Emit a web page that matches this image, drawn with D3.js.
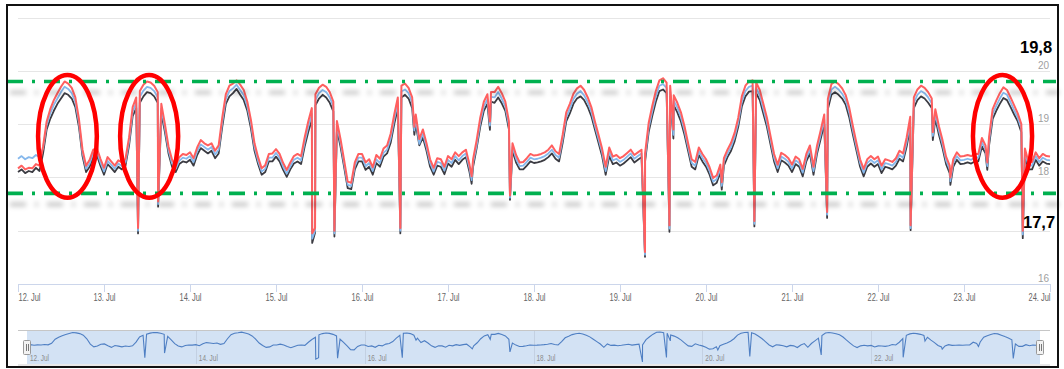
<!DOCTYPE html>
<html>
<head>
<meta charset="utf-8">
<script src="https://cdn.jsdelivr.net/npm/d3@7"></script>
<style>
  html, body { margin: 0; padding: 0; background: #fff; }
  svg { display: block; }
</style>
</head>
<body>
<svg id="chart" width="1064" height="369"></svg>
<script>
// ---- Data: hourly temperature readings (°C), 12 Jul 00:00 to 24 Jul 00:00 ----
const startDate = Date.UTC(2019, 6, 12);
const endDate = Date.UTC(2019, 6, 24);

// Sensor 1 (dark)
const darkSeries = [
  18.10, 18.15, 18.08, 18.12, 18.10, 18.18, 18.12, 18.45, 18.90, 19.10, 19.25, 19.38, 19.48, 19.58, 19.55, 19.48, 19.32, 18.95, 18.40, 18.10, 18.20, 18.38, 18.42, 18.22,
  18.05, 18.25, 18.18, 18.10, 18.20, 18.15, 18.22, 18.60, 19.15, 19.30, 19.40, 19.52, 19.60, 19.58, 19.52, 19.40, 19.20, 18.85, 18.45, 18.20, 18.10, 18.25, 18.30, 18.28,
  18.33, 18.22, 18.42, 18.55, 18.50, 18.45, 18.50, 18.36, 18.45, 18.95, 19.38, 19.52, 19.58, 19.66, 19.55, 19.45, 19.25, 18.92, 18.50, 18.25, 18.05, 18.10, 18.30, 18.30,
  18.39, 18.30, 18.14, 18.01, 18.15, 18.26, 18.30, 18.25, 18.58, 18.85, 19.08, 19.35, 19.48, 19.55, 19.50, 19.40, 19.24, 18.90, 18.58, 18.20, 17.80, 17.78, 18.15, 18.30,
  18.30, 18.14, 18.20, 18.05, 18.27, 18.20, 18.39, 18.45, 18.65, 19.00, 19.30, 19.50, 19.55, 19.48, 19.30, 19.00, 18.60, 18.75, 18.50, 18.20, 18.05, 18.22, 18.20, 18.06,
  18.26, 18.20, 18.33, 18.25, 18.33, 18.38, 18.10, 18.20, 18.55, 18.95, 19.25, 19.38, 19.42, 19.40, 19.50, 19.39, 19.25, 18.90, 18.50, 18.28, 18.15, 18.15, 18.22, 18.30,
  18.27, 18.28, 18.30, 18.33, 18.38, 18.45, 18.35, 18.30, 18.65, 19.05, 19.20, 19.38, 19.48, 19.52, 19.45, 19.32, 19.15, 18.90, 18.65, 18.40, 18.05, 18.40, 18.25, 18.28,
  18.22, 18.26, 18.32, 18.38, 18.28, 18.33, 18.38, 18.30, 18.85, 19.15, 19.42, 19.62, 19.65, 19.58, 19.52, 19.35, 19.22, 19.05, 18.80, 18.50, 18.20, 18.15, 18.42, 18.30,
  18.20, 18.05, 17.85, 17.90, 18.10, 18.22, 18.38, 18.50, 18.68, 18.95, 19.33, 19.52, 19.61, 19.62, 19.58, 19.45, 19.20, 18.95, 18.62, 18.30, 18.10, 18.32, 18.28, 18.22,
  18.10, 18.25, 18.20, 18.02, 18.30, 18.45, 18.05, 18.45, 18.72, 19.00, 19.28, 19.55, 19.60, 19.55, 19.48, 19.36, 19.12, 18.80, 18.50, 18.20, 18.02, 18.20, 18.26, 18.20,
  18.25, 18.08, 18.20, 18.18, 18.15, 18.22, 18.35, 18.30, 18.58, 18.95, 19.30, 19.45, 19.52, 19.48, 19.40, 19.30, 19.10, 18.80, 18.55, 18.25, 18.08, 18.20, 18.33, 18.25,
  18.26, 18.28, 18.26, 18.30, 18.30, 18.58, 18.45, 18.60, 19.10, 19.25, 19.38, 19.49, 19.45, 19.32, 19.18, 19.05, 18.85, 18.40, 18.15, 18.15, 18.33, 18.22, 18.30, 18.26,
  18.25
];

// Sensor 2 (blue)
const blueSeries = [
  18.35, 18.40, 18.34, 18.38, 18.36, 18.42, 18.38, 18.55, 18.98, 19.20, 19.36, 19.48, 19.60, 19.70, 19.66, 19.58, 19.41, 19.03, 18.46, 18.16, 18.26, 18.45, 18.48, 18.28,
  18.11, 18.31, 18.24, 18.16, 18.26, 18.21, 18.28, 18.67, 19.23, 19.40, 19.51, 19.63, 19.70, 19.68, 19.62, 19.50, 19.29, 18.92, 18.51, 18.26, 18.16, 18.31, 18.37, 18.35,
  18.40, 18.29, 18.49, 18.62, 18.57, 18.52, 18.57, 18.43, 18.52, 19.03, 19.47, 19.62, 19.67, 19.74, 19.64, 19.54, 19.33, 19.00, 18.57, 18.31, 18.11, 18.16, 18.37, 18.37,
  18.46, 18.37, 18.20, 18.07, 18.21, 18.33, 18.37, 18.32, 18.66, 18.95, 19.19, 19.45, 19.58, 19.64, 19.60, 19.50, 19.33, 18.98, 18.65, 18.26, 17.86, 17.84, 18.21, 18.37,
  18.37, 18.21, 18.27, 18.12, 18.34, 18.27, 18.46, 18.52, 18.73, 19.09, 19.40, 19.61, 19.65, 19.58, 19.40, 19.09, 18.63, 18.82, 18.57, 18.27, 18.11, 18.29, 18.27, 18.13,
  18.33, 18.27, 18.40, 18.32, 18.40, 18.45, 18.17, 18.27, 18.60, 19.03, 19.33, 19.47, 19.51, 19.50, 19.60, 19.48, 19.33, 18.97, 18.57, 18.35, 18.21, 18.22, 18.29, 18.37,
  18.34, 18.35, 18.37, 18.40, 18.45, 18.52, 18.42, 18.37, 18.72, 19.13, 19.29, 19.47, 19.57, 19.62, 19.54, 19.41, 19.23, 18.97, 18.72, 18.47, 18.12, 18.48, 18.32, 18.35,
  18.29, 18.33, 18.39, 18.45, 18.35, 18.40, 18.45, 18.37, 18.93, 19.24, 19.52, 19.72, 19.75, 19.68, 19.62, 19.44, 19.31, 19.13, 18.88, 18.57, 18.27, 18.22, 18.49, 18.37,
  18.27, 18.12, 17.92, 17.97, 18.17, 18.29, 18.45, 18.57, 18.76, 19.03, 19.42, 19.62, 19.70, 19.72, 19.68, 19.54, 19.29, 19.03, 18.70, 18.37, 18.17, 18.39, 18.35, 18.29,
  18.17, 18.32, 18.27, 18.09, 18.37, 18.52, 18.12, 18.52, 18.80, 19.09, 19.37, 19.65, 19.70, 19.65, 19.57, 19.45, 19.21, 18.88, 18.57, 18.27, 18.09, 18.27, 18.33, 18.27,
  18.32, 18.15, 18.27, 18.25, 18.22, 18.29, 18.42, 18.37, 18.66, 19.04, 19.40, 19.55, 19.62, 19.58, 19.50, 19.39, 19.19, 18.88, 18.62, 18.32, 18.15, 18.27, 18.40, 18.32,
  18.33, 18.35, 18.33, 18.37, 18.37, 18.66, 18.52, 18.68, 19.19, 19.34, 19.48, 19.59, 19.55, 19.41, 19.26, 19.12, 18.92, 18.47, 18.22, 18.22, 18.40, 18.29, 18.37, 18.33,
  18.32
];

// Sensor 3 (red)
const redSeries = [
  18.17, 18.22, 18.15, 18.18, 18.17, 18.25, 18.22, 18.58, 19.05, 19.28, 19.45, 19.58, 19.70, 19.80, 19.76, 19.68, 19.50, 19.10, 18.52, 18.22, 18.33, 18.52, 18.55, 18.35,
  18.18, 18.38, 18.30, 18.22, 18.32, 18.28, 18.35, 18.75, 19.32, 19.50, 19.62, 19.74, 19.80, 19.78, 19.72, 19.60, 19.38, 19.00, 18.58, 18.33, 18.22, 18.38, 18.44, 18.42,
  18.47, 18.36, 18.56, 18.70, 18.64, 18.60, 18.64, 18.50, 18.60, 19.12, 19.56, 19.72, 19.76, 19.82, 19.74, 19.64, 19.42, 19.08, 18.64, 18.38, 18.17, 18.23, 18.44, 18.45,
  18.53, 18.44, 18.27, 18.14, 18.28, 18.40, 18.44, 18.40, 18.75, 19.05, 19.30, 19.56, 19.68, 19.74, 19.70, 19.60, 19.42, 19.06, 18.72, 18.33, 17.92, 17.90, 18.28, 18.44,
  18.44, 18.28, 18.34, 18.19, 18.42, 18.35, 18.54, 18.60, 18.82, 19.18, 19.50, 19.72, 19.76, 19.68, 19.50, 19.18, 18.72, 18.90, 18.64, 18.34, 18.18, 18.36, 18.34, 18.20,
  18.40, 18.34, 18.47, 18.40, 18.47, 18.52, 18.24, 18.34, 18.70, 19.12, 19.42, 19.56, 19.60, 19.60, 19.70, 19.58, 19.42, 19.05, 18.64, 18.42, 18.28, 18.29, 18.36, 18.44,
  18.41, 18.42, 18.44, 18.47, 18.52, 18.60, 18.49, 18.44, 18.80, 19.22, 19.38, 19.57, 19.67, 19.72, 19.64, 19.50, 19.32, 19.05, 18.80, 18.54, 18.20, 18.56, 18.39, 18.42,
  18.36, 18.40, 18.46, 18.52, 18.42, 18.47, 18.52, 18.45, 19.02, 19.34, 19.62, 19.82, 19.86, 19.78, 19.72, 19.54, 19.40, 19.22, 18.96, 18.64, 18.34, 18.29, 18.56, 18.44,
  18.34, 18.19, 17.99, 18.04, 18.24, 18.36, 18.52, 18.65, 18.84, 19.12, 19.52, 19.72, 19.80, 19.82, 19.78, 19.64, 19.38, 19.12, 18.78, 18.44, 18.24, 18.46, 18.42, 18.36,
  18.24, 18.39, 18.34, 18.16, 18.44, 18.60, 18.20, 18.60, 18.88, 19.18, 19.47, 19.75, 19.80, 19.75, 19.67, 19.54, 19.30, 18.96, 18.64, 18.34, 18.16, 18.34, 18.40, 18.34,
  18.39, 18.22, 18.34, 18.32, 18.29, 18.36, 18.50, 18.45, 18.75, 19.14, 19.50, 19.65, 19.72, 19.68, 19.60, 19.48, 19.28, 18.96, 18.70, 18.39, 18.22, 18.34, 18.47, 18.39,
  18.40, 18.42, 18.40, 18.44, 18.44, 18.74, 18.60, 18.76, 19.28, 19.44, 19.58, 19.69, 19.64, 19.50, 19.35, 19.20, 19.00, 18.54, 18.29, 18.29, 18.47, 18.36, 18.44, 18.40,
  18.39
];

// Short drops and dips between the hourly readings (hours after 12 Jul 00:00)
const eventHours = [33.5, 39.1, 82.1, 82.9, 88.3, 106.7, 110.6, 126.6, 131.7, 137.3, 174.98, 181.8, 182.9, 196.4, 205.5, 225.8, 249.1, 255.3, 260.2, 270.5, 280.4];
const eventDark  = [16.95, 17.45, 16.77, 16.96, 16.89, 16.95, 18.80, 17.88, 18.89, 17.58, 16.51, 16.98, 18.73, 17.77, 17.08, 17.24, 17.01, 18.70, 17.86, 18.14, 16.86];
const eventBlue  = [17.00, 17.50, 16.85, 17.00, 16.95, 17.00, 18.88, 17.95, 18.97, 17.62, 16.55, 17.04, 18.80, 17.84, 17.13, 17.30, 17.05, 18.78, 17.93, 18.21, 16.93];
const eventRed   = [17.05, 17.55, 16.95, 17.05, 17.00, 17.05, 18.95, 18.02, 19.05, 17.66, 16.60, 17.10, 18.90, 17.91, 17.18, 17.35, 17.10, 18.85, 18.00, 18.28, 17.00];

// Axis ticks (the top one carries no label)
const yTickValues = [16, 17, 18, 19, 20, 21];
const yLabelValues = [16, 18, 19, 20];

// Limits marked on the chart
const limitValues = [19.8, 17.7];
const limitLabels = ["19,8", "17,7"];

// Highlighted days: [from hour, to hour], and the value band they span
const highlightSpans = [[5.6, 22.0], [28.5, 44.7], [266.5, 283.0]];
const highlightBand = [17.62, 19.92];

// ---- Helpers ----
const HOUR = 3600e3;
function buildSeries(values, extras) {
  const pts = values.map((v, i) => ({ t: new Date(startDate + i * HOUR), v }));
  eventHours.forEach((h, j) => pts.push({ t: new Date(startDate + h * HOUR), v: extras[j] }));
  pts.sort((a, b) => a.t - b.t);
  return pts;
}
const dark = buildSeries(darkSeries, eventDark);
const blue = buildSeries(blueSeries, eventBlue);
const red = buildSeries(redSeries, eventRed);

// ---- Layout ----
const svg = d3.select("#chart");
const plot = { left: 18, right: 1050, top: 17.5, bottom: 284 };
const nav = { left: 18, right: 1050, top: 330, bottom: 364, selL: 27, selR: 1040 };
const FONT = "'Liberation Sans', Arial, sans-serif";

const x = d3.scaleUtc().domain([new Date(startDate), new Date(endDate)]).range([plot.left, plot.right]);
const y = d3.scaleLinear().domain([16, 21]).range([plot.bottom, plot.top]);

// ---- Defs ----
const defs = svg.append("defs");
const f = defs.append("filter").attr("id", "limitShadow")
  .attr("filterUnits", "userSpaceOnUse").attr("x", 0).attr("y", 0).attr("width", 1064).attr("height", 369);
f.append("feGaussianBlur").attr("in", "SourceAlpha").attr("stdDeviation", 2.6).attr("result", "blur");
f.append("feOffset").attr("in", "blur").attr("dx", 3).attr("dy", 11).attr("result", "off");
f.append("feFlood").attr("flood-color", "#000").attr("flood-opacity", 0.25).attr("result", "col");
f.append("feComposite").attr("in", "col").attr("in2", "off").attr("operator", "in").attr("result", "shadow");
const fm = f.append("feMerge");
fm.append("feMergeNode").attr("in", "shadow");
fm.append("feMergeNode").attr("in", "SourceGraphic");

// ---- Grid lines and y labels ----
svg.append("g").selectAll("line").data(yTickValues).join("line")
  .attr("x1", plot.left).attr("x2", plot.right)
  .attr("y1", d => Math.round(y(d)) + 0.5).attr("y2", d => Math.round(y(d)) + 0.5)
  .attr("stroke", "#e6e6e6").attr("stroke-width", 1);

svg.append("g").selectAll("text").data(yLabelValues).join("text")
  .attr("x", plot.right - 1).attr("y", d => y(d) - 2)
  .attr("text-anchor", "end")
  .attr("font-family", FONT).attr("font-size", 10).attr("fill", "#a0a0a0")
  .text(d => d);

// ---- X axis ----
const fmt = d3.utcFormat("%-d. %b");
const xAxis = d3.axisBottom(x).ticks(d3.utcDay.every(1)).tickFormat(fmt)
  .tickSizeInner(8).tickSizeOuter(0).tickPadding(1);
const gx = svg.append("g").attr("transform", `translate(0,${plot.bottom})`).call(xAxis);
gx.select(".domain").attr("stroke", "#ccd6eb");
gx.selectAll(".tick line").attr("stroke", "#ccd6eb");
const xt = gx.selectAll(".tick text")
  .attr("fill", "#666").attr("font-family", FONT).attr("font-size", 11)
  .attr("textLength", 22).attr("lengthAdjust", "spacingAndGlyphs");
const nT = xt.size();
xt.attr("text-anchor", (d, i) => i === 0 ? "start" : (i === nT - 1 ? "end" : "middle"));

// ---- Series ----
const line = d3.line().x(d => x(d.t)).y(d => y(d.v));
const seriesStyles = [
  { data: dark, color: "#3b3b42", width: 1.8 },
  { data: blue, color: "#86b8ec", width: 1.8 },
  { data: red, color: "#ff5f5f", width: 2 }
];
svg.append("g").selectAll("path").data(seriesStyles).join("path")
  .attr("d", d => line(d.data))
  .attr("fill", "none")
  .attr("stroke", d => d.color)
  .attr("stroke-width", d => d.width)
  .attr("stroke-linejoin", "round");

// ---- Navigator ----
const xNav = d3.scaleUtc().domain([new Date(startDate), new Date(endDate)]).range([nav.selL, nav.selR]);
const yNav = d3.scaleLinear().domain(d3.extent(blue, d => d.v)).range([nav.bottom - 2, nav.top + 2]);
const navDays = d3.utcDay.range(new Date(startDate), new Date(endDate), 2);
const gNav = svg.append("g");
gNav.append("rect").attr("x", nav.selL).attr("y", nav.top).attr("width", nav.selR - nav.selL)
  .attr("height", nav.bottom - nav.top).attr("fill", "#d3e2f4");
gNav.selectAll("line.ng").data(navDays.slice(1)).join("line")
  .attr("class", "ng")
  .attr("x1", d => Math.round(xNav(d)) + 0.5).attr("x2", d => Math.round(xNav(d)) + 0.5)
  .attr("y1", nav.top).attr("y2", nav.bottom)
  .attr("stroke", "#c3d0e2").attr("stroke-width", 1);
gNav.append("path").attr("d", d3.line().x(d => xNav(d.t)).y(d => yNav(d.v))(blue))
  .attr("fill", "none").attr("stroke", "#4f7fc3").attr("stroke-width", 1.1);
gNav.selectAll("text").data(navDays).join("text")
  .attr("x", d => xNav(d) + 3).attr("y", 361)
  .attr("font-family", FONT).attr("font-size", 9).attr("fill", "#8a8a8a")
  .attr("textLength", 19).attr("lengthAdjust", "spacingAndGlyphs")
  .text(fmt);
gNav.append("line").attr("x1", nav.left).attr("x2", nav.right)
  .attr("y1", nav.top + 0.5).attr("y2", nav.top + 0.5).attr("stroke", "#c6c6c6");
gNav.append("rect").attr("x", nav.left).attr("y", nav.bottom).attr("width", nav.right - nav.left)
  .attr("height", 3).attr("fill", "#e8e8e8");
[nav.selL, nav.selR].forEach(hx => {
  gNav.append("rect").attr("x", hx - 3.5).attr("y", 340.5).attr("width", 7).attr("height", 14)
    .attr("rx", 1).attr("fill", "#f2f2f2").attr("stroke", "#999");
  gNav.append("line").attr("x1", hx - 0.5).attr("x2", hx - 0.5).attr("y1", 344).attr("y2", 351)
    .attr("stroke", "#777");
  gNav.append("line").attr("x1", hx + 1.5).attr("x2", hx + 1.5).attr("y1", 344).attr("y2", 351)
    .attr("stroke", "#777");
});

// ---- Limit lines ----
svg.append("g").attr("filter", "url(#limitShadow)")
  .selectAll("line").data(limitValues).join("line")
  .attr("x1", 7).attr("x2", 1056)
  .attr("y1", d => y(d)).attr("y2", d => y(d))
  .attr("stroke", "#00b050").attr("stroke-width", 3.6)
  .attr("stroke-dasharray", "16 9 3 9");

svg.append("g").selectAll("text").data(limitValues).join("text")
  .attr("x", (d, i) => i === 0 ? 1020 : 1023)
  .attr("y", (d, i) => i === 0 ? y(d) - 28 : y(d) + 34.5)
  .attr("font-family", FONT).attr("font-weight", "bold").attr("font-size", 16.5).attr("fill", "#000")
  .text((d, i) => limitLabels[i]);

// ---- Highlight ellipses ----
const hx = h => x(new Date(startDate + h * HOUR));
svg.append("g").selectAll("ellipse").data(highlightSpans).join("ellipse")
  .attr("cx", d => (hx(d[0]) + hx(d[1])) / 2)
  .attr("rx", d => (hx(d[1]) - hx(d[0])) / 2)
  .attr("cy", (y(highlightBand[0]) + y(highlightBand[1])) / 2)
  .attr("ry", (y(highlightBand[0]) - y(highlightBand[1])) / 2)
  .attr("fill", "none").attr("stroke", "#ff0000").attr("stroke-width", 4.5);

// ---- Frame ----
svg.append("rect").attr("x", 7).attr("y", 5).attr("width", 1051).attr("height", 362)
  .attr("fill", "none").attr("stroke", "#111").attr("stroke-width", 2);
</script>
</body>
</html>
